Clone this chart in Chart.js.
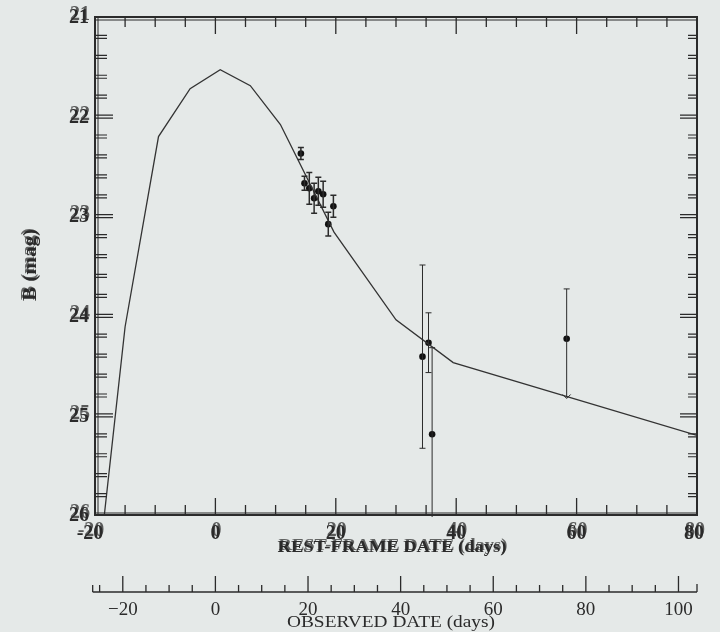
<!DOCTYPE html>
<html lang="en">
<head>
    <meta charset="UTF-8">
    <title>B light curve</title>
    <script src="https://cdn.jsdelivr.net/npm/chart.js"></script>
    <style>
        html, body { margin: 0; padding: 0; background: #e5e9e8; }
        #box { width: 720px; height: 632px; }
    </style>
</head>
<body>
<div id="box"><canvas id="curva"></canvas></div>
<script>
    // model light curve (rest-frame days, B mag)
    const modelDays = [-18.45, -15, -9.45, -4.2, 0.8, 5.8, 10.8, 19.7, 30, 39.5, 80];
    const modelMag = [26.0, 24.11, 22.2, 21.72, 21.53, 21.69, 22.08, 23.16, 24.04, 24.47, 25.2];

    // photometry points
    const obsDays = [14.2, 14.8, 15.6, 16.4, 17.1, 17.9, 18.75, 19.6, 34.4, 35.4, 36.0, 58.35];
    const obsMag = [22.37, 22.67, 22.72, 22.82, 22.75, 22.78, 23.08, 22.90, 24.41, 24.27, 25.19, 24.23];
    const errUp = [0.06, 0.07, 0.16, 0.15, 0.14, 0.13, 0.12, 0.11, 0.92, 0.30, 0.87, 0.50];
    const errDown = [0.06, 0.07, 0.16, 0.15, 0.14, 0.13, 0.12, 0.11, 0.92, 0.30, 0.87, 0.59];

    // axis labels
    const restLabels = [-20, 0, 20, 40, 60, 80];
    const magLabels = [21, 22, 23, 24, 25, 26];
    const obsLabels = [-20, 0, 20, 40, 60, 80, 100];
    const stretch = 1.30; // observed = rest * (1+z)

    const tinta = '#2b2b2b';

    function duplo(ctx, txt, x, y) {
        // overprinted look of the old plotter labels
        ctx.fillText(txt, x, y);
        ctx.globalAlpha = 0.75;
        ctx.fillText(txt, x + 1, y - 3);
        ctx.globalAlpha = 1;
    }

    function textoLargo(ctx, txt, cx, cy, largura) {
        const w = ctx.measureText(txt).width;
        ctx.save();
        ctx.translate(cx, cy);
        ctx.scale(largura / w, 1);
        ctx.fillText(txt, 0, 0);
        ctx.restore();
    }

    const fundo = {
        id: 'fundo',
        beforeDraw(chart) {
            const ctx = chart.ctx;
            ctx.save();
            ctx.fillStyle = '#e5e9e8';
            ctx.fillRect(0, 0, chart.width, chart.height);
            ctx.restore();
        }
    };

    const barras = {
        id: 'barras',
        afterDatasetsDraw(chart) {
            const ctx = chart.ctx;
            const x = chart.scales.x, y = chart.scales.y, a = chart.chartArea;
            ctx.save();
            ctx.beginPath();
            ctx.rect(a.left, a.top, a.right - a.left, a.bottom - a.top + 2);
            ctx.clip();
            ctx.strokeStyle = tinta;
            for (let i = 0; i < obsDays.length; i++) {
                const px = x.getPixelForValue(obsDays[i]);
                const y1 = y.getPixelForValue(obsMag[i] - errUp[i]);
                const y2 = y.getPixelForValue(obsMag[i] + errDown[i]);
                ctx.lineWidth = i < 8 ? 1.5 : 1;
                ctx.beginPath();
                ctx.moveTo(px, y1); ctx.lineTo(px, y2);
                ctx.moveTo(px - 3, y1); ctx.lineTo(px + 3, y1);
                if (i === obsDays.length - 1) {
                    // open arrow at the lower end
                    ctx.moveTo(px - 4, y2 - 3); ctx.lineTo(px, y2 + 1); ctx.lineTo(px + 4, y2 - 3);
                } else {
                    ctx.moveTo(px - 3, y2); ctx.lineTo(px + 3, y2);
                }
                ctx.stroke();
            }
            ctx.restore();
        }
    };

    const moldura = {
        id: 'moldura',
        afterDraw(chart) {
            const ctx = chart.ctx;
            const x = chart.scales.x, y = chart.scales.y, x2 = chart.scales.x2;
            const a = chart.chartArea;
            ctx.save();
            ctx.strokeStyle = tinta;
            ctx.fillStyle = tinta;

            // frame
            ctx.lineWidth = 2;
            ctx.strokeRect(a.left, a.top, a.right - a.left, a.bottom - a.top);
            ctx.lineWidth = 1;
            ctx.beginPath();
            ctx.moveTo(a.left, a.top + 3); ctx.lineTo(a.right, a.top + 3);
            ctx.moveTo(a.left + 3, a.top); ctx.lineTo(a.left + 3, a.bottom);
            ctx.moveTo(a.left, a.bottom - 2); ctx.lineTo(a.right, a.bottom - 2);
            ctx.stroke();

            // day ticks, top and bottom, pointing in
            ctx.lineWidth = 1.3;
            ctx.beginPath();
            for (let d = -15; d < 80; d += 5) {
                const px = x.getPixelForValue(d);
                const len = d % 20 === 0 ? 17 : 10;
                ctx.moveTo(px, a.bottom); ctx.lineTo(px, a.bottom - len);
                ctx.moveTo(px, a.top); ctx.lineTo(px, a.top + len);
            }
            ctx.stroke();

            // mag ticks, left and right, doubled
            ctx.lineWidth = 1.2;
            ctx.beginPath();
            for (let k = 1; k < 25; k++) {
                const m = 21 + k * 0.2;
                const py = y.getPixelForValue(m);
                const major = k % 5 === 0;
                const lenL = major ? 18 : 12, lenR = major ? 17 : 9;
                for (const off of [-1.5, 1.5]) {
                    ctx.moveTo(a.left, py + off); ctx.lineTo(a.left + lenL, py + off);
                    ctx.moveTo(a.right, py + off); ctx.lineTo(a.right - lenR, py + off);
                }
            }
            ctx.stroke();

            // mag labels
            ctx.font = 'bold 20px "Liberation Serif"';
            ctx.textAlign = 'right';
            ctx.textBaseline = 'middle';
            magLabels.forEach(m => duplo(ctx, String(m), a.left - 6, y.getPixelForValue(m) + 1));

            // rest-frame labels
            ctx.textAlign = 'center';
            restLabels.forEach(d => {
                const px = x.getPixelForValue(d);
                duplo(ctx, String(d), d === -20 ? px - 5 : (d === 80 ? px - 3 : px), a.bottom + 19);
            });
            ctx.font = 'bold 16px "Liberation Serif"';
            textoLargo(ctx, 'REST-FRAME DATE (days)', 392, a.bottom + 33, 229);
            ctx.globalAlpha = 0.7;
            textoLargo(ctx, 'REST-FRAME DATE (days)', 393, a.bottom + 31, 229);
            ctx.globalAlpha = 1;

            // y title
            ctx.save();
            ctx.translate(31, 265);
            ctx.rotate(-Math.PI / 2);
            ctx.font = 'bold 19px "Liberation Serif"';
            textoLargo(ctx, 'B (mag)', 0, 0, 72);
            ctx.globalAlpha = 0.7;
            textoLargo(ctx, 'B (mag)', 1, -2, 72);
            ctx.restore();

            // observed-frame axis
            const yb = 592;
            ctx.lineWidth = 1.3;
            ctx.beginPath();
            ctx.moveTo(x2.getPixelForValue(-26.5), yb); ctx.lineTo(a.right, yb);
            ctx.moveTo(x2.getPixelForValue(-26.5), yb); ctx.lineTo(x2.getPixelForValue(-26.5), yb - 7);
            ctx.moveTo(a.right, yb); ctx.lineTo(a.right, yb - 8);
            for (let o = -25; o <= 100; o += 5) {
                const px = x2.getPixelForValue(o);
                const len = o % 20 === 0 ? 16 : 7;
                ctx.moveTo(px, yb); ctx.lineTo(px, yb - len);
            }
            ctx.stroke();
            ctx.font = '19px "Liberation Serif"';
            ctx.textBaseline = 'middle';
            obsLabels.forEach(o => {
                ctx.fillText(o < 0 ? '\u2212' + Math.abs(o) : String(o), x2.getPixelForValue(o), 610);
            });
            ctx.font = '17px "Liberation Serif"';
            textoLargo(ctx, 'OBSERVED DATE (days)', 391, 623, 208);
            ctx.restore();
        }
    };

    const ctx1 = document.getElementById('curva').getContext('2d');
    const curva = new Chart(ctx1, {
        type: 'scatter',
        data: {
            datasets: [{
                label: 'modelo',
                data: modelDays.map((d, i) => ({x: d, y: modelMag[i]})),
                showLine: true,
                borderColor: '#333333',
                borderWidth: 1.3,
                pointRadius: 0,
                tension: 0
            }, {
                label: 'B',
                data: obsDays.map((d, i) => ({x: d, y: obsMag[i]})),
                pointRadius: 3.3,
                backgroundColor: '#111111',
                borderColor: '#111111',
                borderWidth: 0
            }]
        },
        options: {
            responsive: true,
            maintainAspectRatio: false,
            animation: false,
            layout: {
                padding: {left: 95, right: 23, top: 17, bottom: 117}
            },
            plugins: {
                legend: {display: false},
                tooltip: {enabled: false}
            },
            scales: {
                x: {type: 'linear', min: -20, max: 80, display: false},
                x2: {type: 'linear', axis: 'x', min: -20 * stretch, max: 80 * stretch, display: false},
                y: {type: 'linear', min: 21, max: 26, reverse: true, display: false}
            }
        },
        plugins: [fundo, barras, moldura]
    });
</script>
</body>
</html>
